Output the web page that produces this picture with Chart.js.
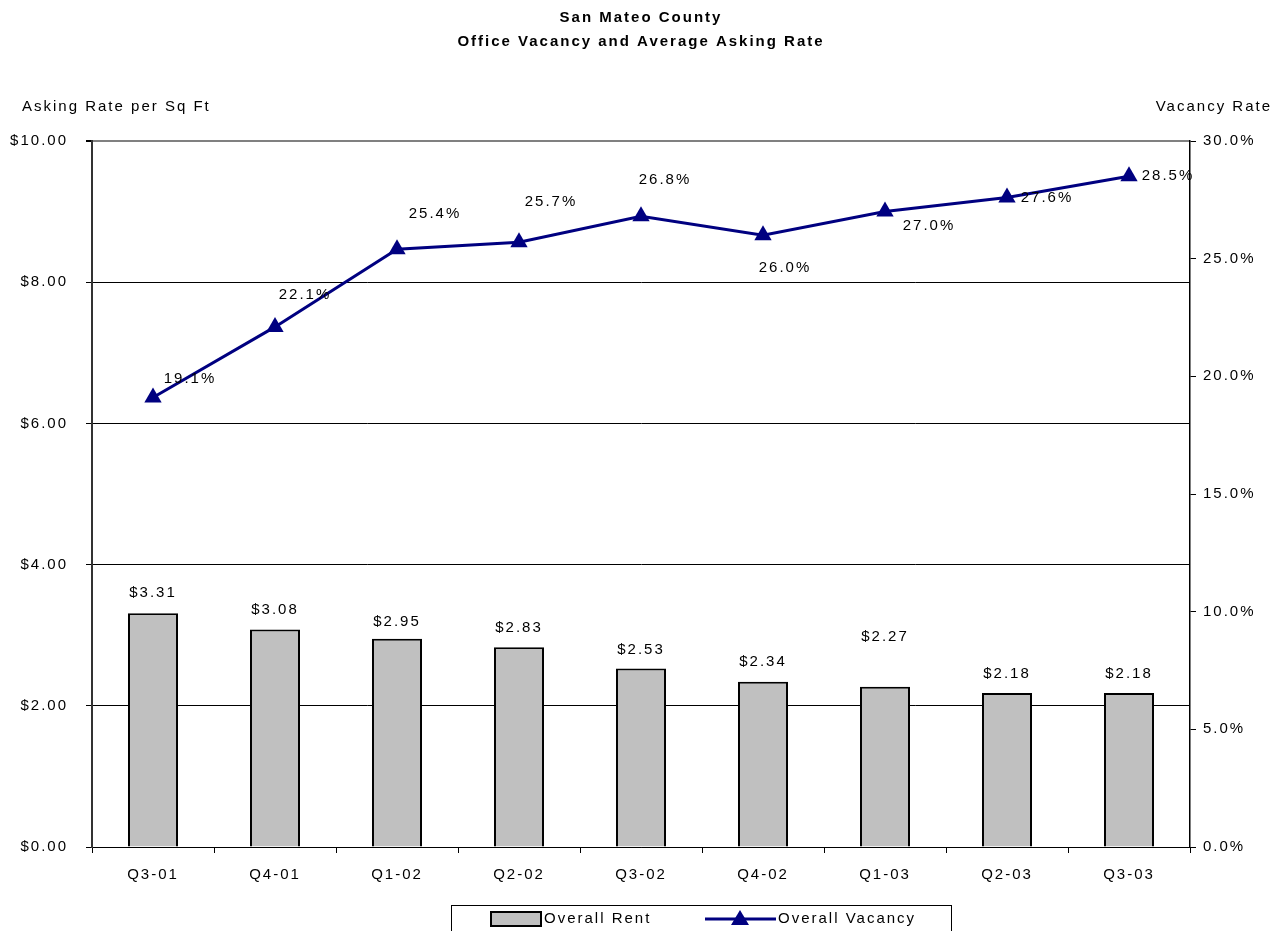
<!DOCTYPE html>
<html>
<head>
<meta charset="utf-8">
<title>San Mateo County Office Vacancy</title>
<script src="https://cdn.jsdelivr.net/npm/chart.js@4.4.1/dist/chart.umd.min.js"></script>
<style>
  html, body { margin: 0; padding: 0; background: #fff; }
  #wrap { width: 1280px; height: 931px; position: relative; }
</style>
</head>
<body>
<div id="wrap"><canvas id="chart"></canvas></div>
<script>
// data
const quarters = ['Q3-01', 'Q4-01', 'Q1-02', 'Q2-02', 'Q3-02', 'Q4-02', 'Q1-03', 'Q2-03', 'Q3-03'];
const overallRent = [3.31, 3.08, 2.95, 2.83, 2.53, 2.34, 2.27, 2.18, 2.18];
const overallVacancy = [19.1, 22.1, 25.4, 25.7, 26.8, 26.0, 27.0, 27.6, 28.5];
const rentTicks = [0, 2, 4, 6, 8, 10];
const vacancyTicks = [0, 5, 10, 15, 20, 25, 30];

// label placement (px), roughly where the original puts them
const rentLabelLift = [20, 20, 17, 19, 19, 20, 50, 19, 19];
const vacancyLabelShift = [[37, -19], [30, -32], [38, -35], [32, -40], [24, -36], [22, 33], [44, 14], [40, 0], [39, 0]];

const FONT = '"Liberation Sans", Arial, sans-serif';
const NAVY = '#000080';
const GREY = '#c0c0c0';

Chart.defaults.font.family = FONT;
Chart.defaults.font.size = 15;
Chart.defaults.color = '#000';

const spacing = {
  id: 'spacing',
  beforeUpdate(chart) { chart.ctx.letterSpacing = '2px'; },
  beforeDraw(chart) { chart.ctx.letterSpacing = '2px'; }
};

const decorations = {
  id: 'decorations',
  afterDatasetsDraw(chart) {
    const ctx = chart.ctx;
    ctx.save();
    ctx.letterSpacing = '2px';
    ctx.font = '15px ' + FONT;
    ctx.fillStyle = '#000';
    ctx.textAlign = 'center';
    ctx.textBaseline = 'middle';

    // bar labels
    chart.getDatasetMeta(1).data.forEach((bar, i) => {
      ctx.fillText('$' + overallRent[i].toFixed(2), bar.x, bar.y - rentLabelLift[i]);
    });
    // line labels
    chart.getDatasetMeta(0).data.forEach((pt, i) => {
      const s = vacancyLabelShift[i];
      ctx.fillText(overallVacancy[i].toFixed(1) + '%', pt.x + s[0], pt.y + s[1]);
    });
    ctx.restore();
  },
  afterDraw(chart) {
    const ctx = chart.ctx;
    const area = chart.chartArea;
    ctx.save();
    ctx.fillStyle = '#000';
    ctx.textBaseline = 'middle';

    // title
    ctx.letterSpacing = '2px';
    ctx.font = 'bold 15px ' + FONT;
    ctx.textAlign = 'center';
    ctx.fillText('San Mateo County', 641, 18);
    ctx.fillText('Office Vacancy and Average Asking Rate', 641, 42);

    // axis titles
    ctx.letterSpacing = '2px';
    ctx.font = '15px ' + FONT;
    ctx.textAlign = 'left';
    ctx.fillText('Asking Rate per Sq Ft', 22, area.top - 34);
    ctx.textAlign = 'right';
    ctx.fillText('Vacancy Rate', 1272, area.top - 34);

    // legend
    ctx.strokeStyle = '#000';
    ctx.lineWidth = 1;
    ctx.strokeRect(451.5, 905.5, 500, 40);
    ctx.fillStyle = GREY;
    ctx.fillRect(491, 912, 50, 14);
    ctx.lineWidth = 2;
    ctx.strokeRect(491, 912, 50, 14);
    ctx.strokeStyle = NAVY;
    ctx.lineWidth = 3;
    ctx.beginPath();
    ctx.moveTo(705, 919);
    ctx.lineTo(776, 919);
    ctx.stroke();
    ctx.fillStyle = NAVY;
    ctx.beginPath();
    ctx.moveTo(740, 910);
    ctx.lineTo(749, 925);
    ctx.lineTo(731, 925);
    ctx.closePath();
    ctx.fill();
    ctx.fillStyle = '#000';
    ctx.textAlign = 'left';
    ctx.fillText('Overall Rent', 544, 919);
    ctx.fillText('Overall Vacancy', 778, 919);
    ctx.restore();
  }
};

new Chart(document.getElementById('chart'), {
  type: 'bar',
  data: {
    labels: quarters,
    datasets: [
      {
        type: 'line',
        label: 'Overall Vacancy',
        data: overallVacancy,
        yAxisID: 'yVac',
        borderColor: NAVY,
        backgroundColor: NAVY,
        borderWidth: 3,
        pointStyle: 'triangle',
        pointRadius: 10,
        pointHoverRadius: 10,
        pointBorderWidth: 0,
        tension: 0,
        order: 0
      },
      {
        label: 'Overall Rent',
        data: overallRent,
        yAxisID: 'yRent',
        backgroundColor: GREY,
        borderColor: '#000',
        borderWidth: 2,
        barPercentage: 0.41,
        categoryPercentage: 1,
        order: 1
      }
    ]
  },
  options: {
    responsive: true,
    maintainAspectRatio: false,
    animation: false,
    layout: { padding: { top: 141, bottom: 44, left: 0, right: 0 } },
    plugins: {
      legend: { display: false },
      title: { display: false },
      tooltip: { enabled: false }
    },
    scales: {
      x: {
        offset: true,
        grid: { offset: true, drawOnChartArea: false, tickLength: 6, color: '#000' },
        border: { color: '#000', width: 1 },
        ticks: { padding: 13, maxRotation: 0 },
        afterFit(scale) { scale.height = 40; }
      },
      yRent: {
        position: 'left',
        min: 0,
        max: 10,
        afterBuildTicks(scale) { scale.ticks = rentTicks.map(v => ({ value: v })); },
        grid: {
          color: c => (c.tick && c.tick.value === 10 ? '#808080' : '#000'),
          lineWidth: c => (c.tick && c.tick.value === 10 ? 2 : 1),
          tickColor: '#000',
          tickLength: 6
        },
        border: { color: '#333', width: 2 },
        ticks: { padding: 18, callback: v => '$' + Number(v).toFixed(2) },
        afterFit(scale) { scale.width = 92; }
      },
      yVac: {
        position: 'right',
        min: 0,
        max: 30,
        afterBuildTicks(scale) { scale.ticks = vacancyTicks.map(v => ({ value: v })); },
        grid: { drawOnChartArea: false, color: '#000', tickLength: 6 },
        border: { color: '#000', width: 1.5 },
        ticks: { padding: 7, callback: v => Number(v).toFixed(1) + '%' },
        afterFit(scale) { scale.width = 90; }
      }
    }
  },
  plugins: [spacing, decorations]
});
</script>
</body>
</html>
